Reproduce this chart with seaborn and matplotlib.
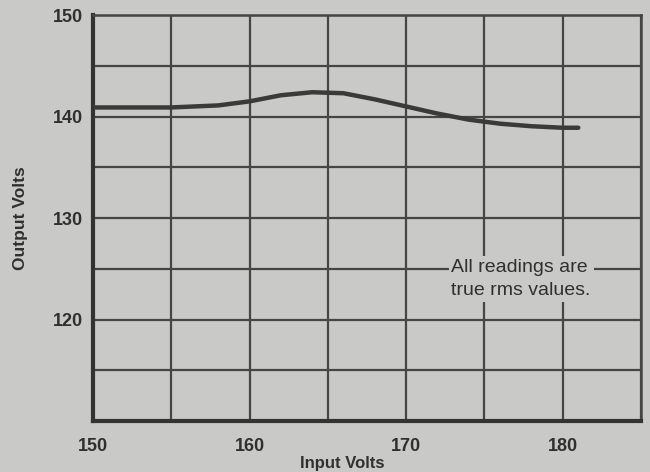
import matplotlib
matplotlib.use("Agg")
import matplotlib.pyplot as plt
import seaborn as sns
import pandas as pd

input_volts = [150, 155, 158, 160, 162, 164, 166, 168, 170, 172, 174, 176, 178, 180, 181]
output_volts = [140.9, 140.9, 141.1, 141.5, 142.1, 142.4, 142.3, 141.7, 141.0, 140.3, 139.7, 139.3, 139.05, 138.9, 138.9]
x_ticks = [150, 160, 170, 180]
y_ticks = [120, 130, 140, 150]
note = "All readings are\ntrue rms values."

sns.set_theme(style="white")
plt.rcParams['font.family'] = ['Liberation Sans', 'DejaVu Sans']

bg = "#c9c9c7"
ink = "#3a3a3a"
df = pd.DataFrame({"Input Volts": input_volts, "Output Volts": output_volts})

fig = plt.figure(figsize=(6.5, 4.72), dpi=100, facecolor=bg)
ax = fig.add_axes([0.143, 0.108, 0.843, 0.860])
ax.set_facecolor(bg)

ax.set_xlim(150, 185)
ax.set_ylim(110, 150)
ax.set_xticks(x_ticks)
ax.set_xticks(range(155, 186, 10), minor=True)
ax.set_yticks(y_ticks)
ax.set_yticks(range(115, 151, 10), minor=True)
ax.grid(True, which="both", color="#454545", linewidth=1.6)
ax.tick_params(which="both", length=0)
ax.tick_params(axis="x", pad=12, labelsize=13, colors="#303030")
ax.tick_params(axis="y", pad=7, labelsize=13, colors="#303030")
for lbl in ax.get_xticklabels() + ax.get_yticklabels():
    lbl.set_fontweight("bold")

sns.lineplot(data=df, x="Input Volts", y="Output Volts", ax=ax, color=ink, linewidth=3.2, zorder=5)

for side in ["left", "bottom"]:
    ax.spines[side].set_linewidth(3)
    ax.spines[side].set_color("#333333")
for side in ["top", "right"]:
    ax.spines[side].set_linewidth(1.8)
    ax.spines[side].set_color("#454545")

ax.set_xlabel("Input Volts", fontsize=12, fontweight="bold", color="#303030")
ax.xaxis.set_label_coords(0.455, -0.085)
ax.set_ylabel("Output Volts", fontsize=12.5, fontweight="bold", color="#303030")
ax.yaxis.set_label_coords(-0.118, 0.5)

ax.text(172.9, 124.0, note, fontsize=14, color="#303030", ha="left", va="center",
        linespacing=1.5, zorder=6,
        bbox=dict(boxstyle="square,pad=0.15", facecolor=bg, edgecolor="none"))

fig.savefig("out.png", dpi=100, facecolor=bg)
